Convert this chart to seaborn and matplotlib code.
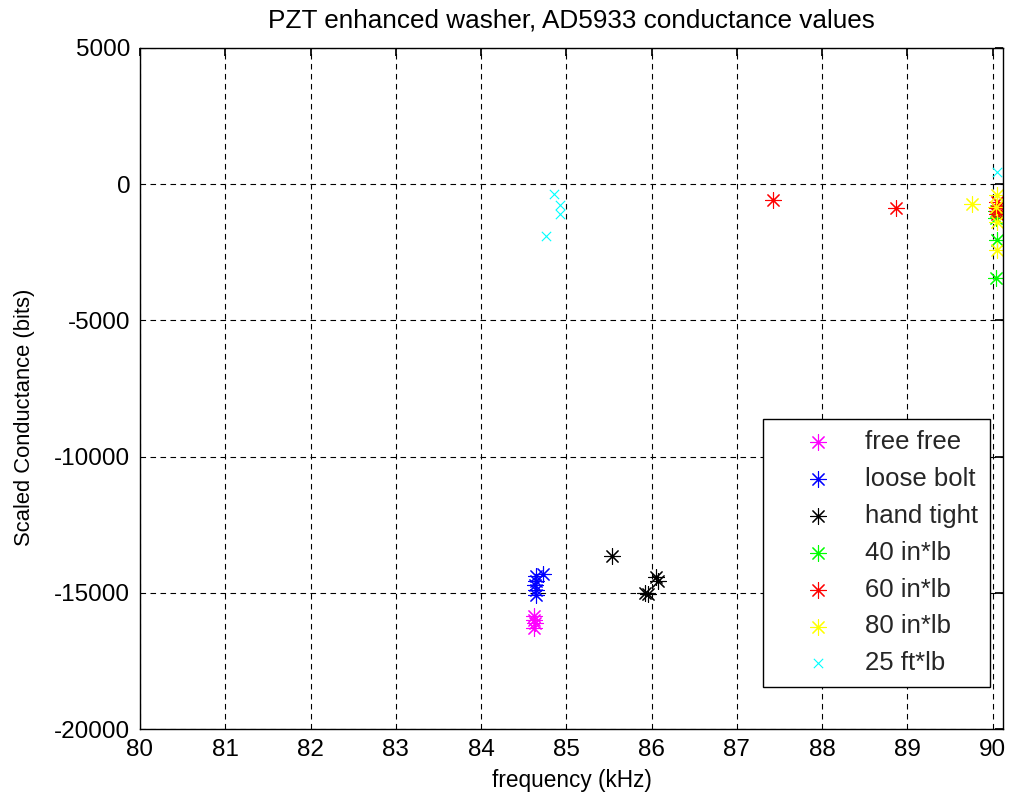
import matplotlib
matplotlib.use("Agg")
import matplotlib.pyplot as plt
import seaborn as sns
import pandas as pd

sns.set_theme(style="white")
plt.rcParams['font.family'] = ['Liberation Sans', 'DejaVu Sans']
plt.rcParams['axes.unicode_minus'] = False

labels = ["free free", "loose bolt", "hand tight", "40 in*lb", "60 in*lb", "80 in*lb", "25 ft*lb"]
colors = ["#ff00ff", "#0000ff", "#000000", "#00ff00", "#ff0000", "#ffff00", "#00ffff"]

free_x = [84.62, 84.62, 84.63, 84.62]
free_y = [-15850, -16000, -16100, -16300]
loose_x = [84.64, 84.64, 84.63, 84.64, 84.64, 84.73]
loose_y = [-14400, -14550, -14700, -14880, -15070, -14320]
hand_x = [85.53, 85.92, 85.96, 86.05, 86.08]
hand_y = [-13650, -15000, -15050, -14420, -14550]
f40_x = [90.04, 90.04, 90.05, 90.04]
f40_y = [-1000, -1230, -2050, -3430]
f60_x = [87.42, 88.86, 90.05, 90.05, 90.05, 90.05]
f60_y = [-590, -890, -670, -860, -980, -1100]
f80_x = [89.76, 90.05, 90.04, 90.05, 90.05]
f80_y = [-740, -400, -850, -1400, -2420]
ft25_x = [84.85, 84.92, 84.92, 84.76, 90.05]
ft25_y = [-370, -770, -1080, -1900, 430]

series_x = [free_x, loose_x, hand_x, f40_x, f60_x, f80_x, ft25_x]
series_y = [free_y, loose_y, hand_y, f40_y, f60_y, f80_y, ft25_y]

fig = plt.figure(figsize=(10.1, 8.02), dpi=100)
ax = fig.add_axes([140/1010, 1-729/802, (1003-140)/1010, (729-48)/802])

star = (8, 2, 0)
for lab, col, xs, ys in zip(labels, colors, series_x, series_y):
    df = pd.DataFrame({"f": xs, "g": ys})
    mk = "x" if lab == "25 ft*lb" else star
    sz = 45 if lab == "25 ft*lb" else 130
    sns.scatterplot(data=df, x="f", y="g", ax=ax, marker=mk, color=col,
                    s=sz, linewidth=0.8, label=lab)

ax.set_xlim(80, 90.12)
ax.set_ylim(-20000, 5000)
ax.set_xticks(range(80, 91))
ax.set_yticks(range(-20000, 5001, 5000))
ax.grid(True, color="black", linestyle=(0, (5, 4)), linewidth=0.8)
ax.tick_params(direction="in", top=True, right=True, labelsize=17.5, length=6,
               color="black", labelcolor="black", pad=7)
for s in ax.spines.values():
    s.set_color("black")
    s.set_linewidth(1.0)
ax.set_xlabel("frequency (kHz)", fontsize=16.3, color="black", labelpad=6)
ax.set_ylabel("Scaled Conductance (bits)", fontsize=15.8, color="black")
ax.yaxis.set_label_coords(-0.122, 0.458)
ax.set_title("PZT enhanced washer, AD5933 conductance values", fontsize=18.8, color="black", pad=15)

leg = ax.legend(loc="lower right", bbox_to_anchor=(0.985, 0.062), fontsize=18.5,
                frameon=True, fancybox=False, edgecolor="black", framealpha=1,
                labelspacing=0.5, handlelength=3.4, handletextpad=0.15,
                borderpad=0.45, borderaxespad=0)
leg.get_frame().set_linewidth(1.0)

fig.savefig("out.png", dpi=100, facecolor="white")
